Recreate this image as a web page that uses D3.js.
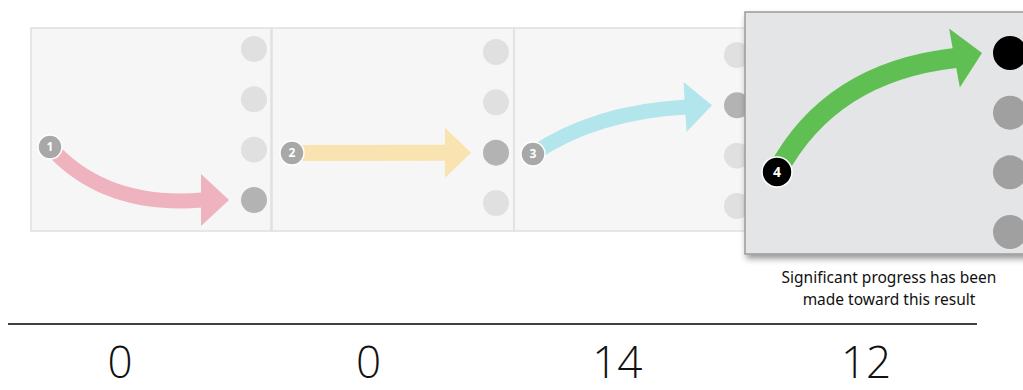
<!DOCTYPE html>
<html><head><meta charset="utf-8">
<script src="https://cdn.jsdelivr.net/npm/d3@7"></script>
<style>body{margin:0;background:#fff}svg{display:block}</style>
</head><body>
<svg id="c" width="1023" height="390"></svg>
<script>
const categories = ["1","2","3","4"];
const counts = [0, 0, 14, 12];
const startLevel = [3, 3, 3, 3];
const endLevel = [4, 3, 2, 1];
const levels = [1, 2, 3, 4];
const arrowColors = ["#efb3c0", "#f9e3b0", "#b3e6ec", "#5fbf52"];
const caption = ["Significant progress has been", "made toward this result"];

const svg = d3.select("#c");
const defs = svg.append("defs");
const f = defs.append("filter").attr("id","sh").attr("x","-10%").attr("y","-10%").attr("width","130%").attr("height","130%");
f.append("feDropShadow").attr("dx",2).attr("dy",4).attr("stdDeviation",3).attr("flood-color","#000").attr("flood-opacity",0.4);

const panels = [
  {x0:31, x1:271, y0:28, y1:231, dotX:254, lv:[49,200], r:13, sx:50, sy:147, sr:12, w:15, head:[28,26], ctrl:[105,208], bg:"#f6f6f6", stroke:"#e0e0e0"},
  {x0:272, x1:514, y0:28, y1:231, dotX:496, lv:[52,203], r:13, sx:292, sy:153, sr:12, w:16, head:[26,25], ctrl:null, bg:"#f6f6f6", stroke:"#e0e0e0"},
  {x0:514, x1:760, y0:28, y1:231, dotX:737, lv:[55,206], r:13, sx:533, sy:154, sr:12, w:15, head:[27,25], ctrl:[595,112], bg:"#f6f6f6", stroke:"#e0e0e0"},
  {x0:745, x1:1040, y0:12, y1:254, dotX:1010, lv:[53,232], r:17, sx:777, sy:172, sr:15, w:20, head:[28,30], ctrl:[830,72], bg:"#e4e5e7", stroke:"#9a9a9a"}
];

categories.forEach((c, i) => {
  const p = panels[i];
  const y = d3.scalePoint().domain(levels).range(p.lv);
  const g = svg.append("g");
  g.append("rect").attr("x",p.x0).attr("y",p.y0).attr("width",p.x1-p.x0).attr("height",p.y1-p.y0)
    .attr("fill",p.bg).attr("stroke",p.stroke).attr("stroke-width",1.5)
    .attr("filter", i===3 ? "url(#sh)" : null);
  const isLast = i===3;
  g.selectAll("circle.lv").data(levels).join("circle").attr("class","lv")
    .attr("cx",p.dotX).attr("cy",d=>y(d)).attr("r",p.r)
    .attr("fill", d => d===endLevel[i] ? (isLast ? "#000" : "#b3b3b3") : (isLast ? "#a0a0a0" : "#e0e0e0"));
});

categories.forEach((c, i) => {
  const p = panels[i];
  const y = d3.scalePoint().domain(levels).range(p.lv);
  const tipX = p.dotX - p.r - (i===3 ? 11 : 12);
  const tipY = y(endLevel[i]);
  const hl = p.head[0], hw = p.head[1];
  let ang = 0;
  if (i===2) ang = -0.06;
  if (i===3) ang = -0.18;
  const bx = tipX - hl*Math.cos(ang), by = tipY - hl*Math.sin(ang);
  const sx = p.sx, sy = p.sy;
  const path = d3.path();
  path.moveTo(sx, sy);
  if (p.ctrl) path.quadraticCurveTo(p.ctrl[0], p.ctrl[1], bx+1, by);
  else path.lineTo(bx+1, by);
  const g = svg.append("g");
  g.append("path").attr("d", path.toString()).attr("fill","none")
    .attr("stroke", arrowColors[i]).attr("stroke-width", p.w);
  const nx = -Math.sin(ang), ny = Math.cos(ang);
  g.append("path").attr("d", `M${tipX},${tipY}L${bx+nx*hw},${by+ny*hw}L${bx-nx*hw},${by-ny*hw}Z`)
    .attr("fill", arrowColors[i]);
  const isLast = i===3;
  g.append("circle").attr("cx",sx).attr("cy",sy).attr("r",p.sr)
    .attr("fill", isLast ? "#000" : "#a8a8a8").attr("stroke","#fff").attr("stroke-width",1.5);
  g.append("text").attr("x",sx).attr("y",sy).attr("dy","0.36em").attr("text-anchor","middle")
    .attr("fill","#fff").attr("font-family","Open Sans, sans-serif").attr("font-weight",700)
    .attr("font-size", isLast ? 14 : 12).text(c);
});

svg.selectAll("text.cap").data(caption).join("text").attr("class","cap")
  .attr("x",889).attr("y",(d,k)=>283 + k*21.5).attr("text-anchor","middle")
  .attr("font-family","Noto Sans, sans-serif").attr("font-size",15.5).attr("fill","#111")
  .text(d=>d);

svg.append("line").attr("x1",8).attr("x2",977).attr("y1",324).attr("y2",324).attr("stroke","#000").attr("stroke-width",1.5);
const xc = d3.scalePoint().domain(categories).range([120, 866]);
svg.selectAll("text.cnt").data(counts).join("text").attr("class","cnt")
  .attr("x",(d,k)=>xc(categories[k])).attr("y",378).attr("text-anchor","middle")
  .attr("font-family","Open Sans, sans-serif").attr("font-weight",300).attr("font-size",44).attr("fill","#111")
  .text(d=>d);
</script>
</body></html>
